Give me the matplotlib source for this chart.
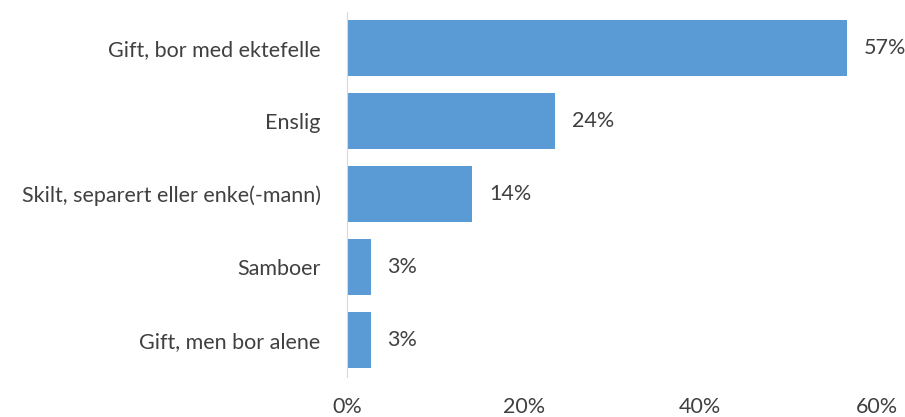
import matplotlib.pyplot as plt
import numpy as np

categories = ["Gift, bor med ektefelle", "Enslig", "Skilt, separert eller enke(-mann)",
              "Samboer", "Gift, men bor alene"]
shares = [56.6, 23.6, 14.2, 2.7, 2.7]
xticks = [0, 20, 40, 60]

text_color = "#404040"
plt.rcParams["font.family"] = ["Lato", "DejaVu Sans"]
fs = 15.5

fig = plt.figure(figsize=(9.05, 4.17), dpi=100)
ax = fig.add_axes([0.3834, 0.097, 0.5856, 0.875])

y = np.arange(len(categories))
ax.barh(y, shares, height=0.77, color="#5B9BD5")
for yi, v in zip(y, shares):
    ax.text(v + 1.9, yi, f"{v:.0f}%", va="center", ha="left", fontsize=fs, color=text_color)

ax.set_ylim(len(categories) - 0.5, -0.5)
ax.set_xlim(0, 60)
ax.set_yticks(y)
ax.set_yticklabels(categories, fontsize=fs, color=text_color)
ax.set_xticks(xticks)
ax.set_xticklabels([f"{t}%" for t in xticks], fontsize=fs, color=text_color)

for side in ["top", "right", "bottom"]:
    ax.spines[side].set_visible(False)
ax.spines["left"].set_color("#D9D9D9")
ax.tick_params(axis="both", length=0)
ax.tick_params(axis="y", pad=19)
ax.tick_params(axis="x", pad=15)

fig.savefig("out.png", dpi=100)
